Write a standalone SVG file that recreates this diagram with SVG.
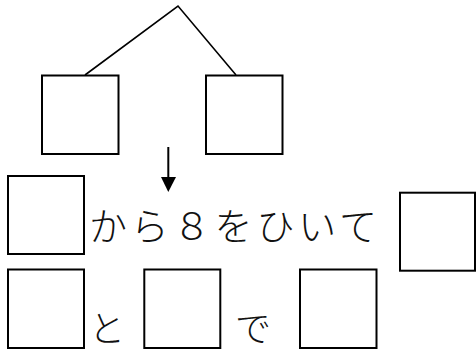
<svg xmlns="http://www.w3.org/2000/svg" width="476" height="353" viewBox="0 0 476 353">
<style>
.box{fill:#fff;stroke:#000;stroke-width:2}
.ln{fill:none;stroke:#000;stroke-width:1.6}
.t{font-family:"Noto Sans CJK JP","Noto Sans",sans-serif;font-size:38px;fill:#111;font-weight:300}
.s{font-size:36px}
</style>
<g id="connectors">
<polyline class="ln" points="85,75 178,6 236,75"/>
<line x1="168.3" y1="147" x2="168.3" y2="178" stroke="#000" stroke-width="2"/>
<polygon points="161,177 176,177 168.3,192" fill="#000"/>
</g>
<g id="box-top-left"><rect class="box" x="42" y="75.5" width="76.5" height="78.5"/></g>
<g id="box-top-right"><rect class="box" x="206" y="75.5" width="76.5" height="78.5"/></g>
<g id="box-row2-left"><rect class="box" x="8" y="176" width="76" height="78"/></g>
<g id="text-row2"><text class="t" x="89" y="240" textLength="288" lengthAdjust="spacing">から８をひいて</text></g>
<g id="box-row2-right"><rect class="box" x="400" y="192.7" width="75" height="78"/></g>
<g id="box-row3-1"><rect class="box" x="8" y="269.5" width="76" height="78.5"/></g>
<g id="text-to"><text class="t s" x="89" y="342">と</text></g>
<g id="box-row3-2"><rect class="box" x="144.3" y="269.5" width="76" height="78.5"/></g>
<g id="text-de"><text class="t s" x="235" y="342">で</text></g>
<g id="box-row3-3"><rect class="box" x="300" y="269.5" width="76.5" height="78.5"/></g>
</svg>
